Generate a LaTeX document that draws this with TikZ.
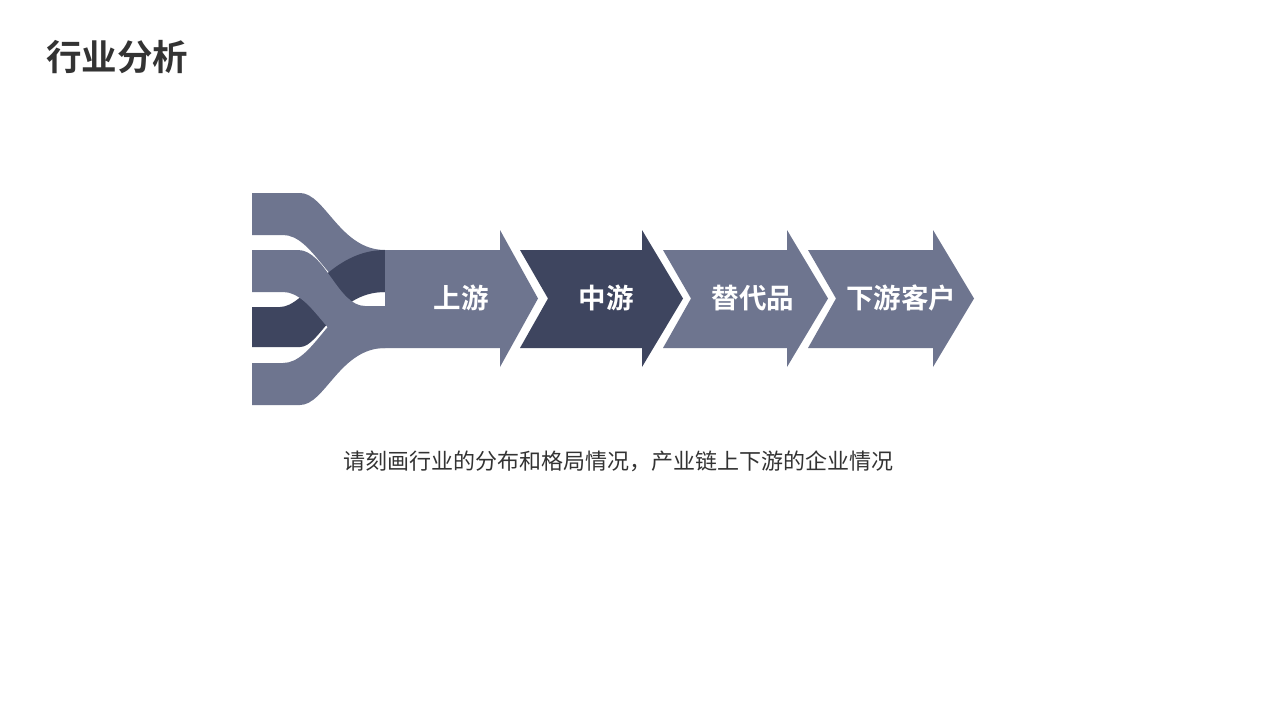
\documentclass[tikz,border=0pt]{standalone}
\usepackage{fontspec}
\newfontfamily\cjk{Noto Sans CJK SC}
\newfontfamily\cjkbold{Noto Sans CJK SC Bold}
\definecolor{lightband}{HTML}{6E758F}
\definecolor{darkband}{HTML}{3E455F}
\definecolor{textgray}{HTML}{333333}
\begin{document}
\begin{tikzpicture}[x=1pt,y=-1pt,
  lightfill/.style={fill=lightband,draw=none},
  darkfill/.style={fill=darkband,draw=none},
  arrowlabel/.style={text=white,font=\cjkbold\fontsize{27.5}{32}\selectfont,inner sep=0pt,anchor=center}]
\useasboundingbox (0,0) rectangle (1280,720);
\fill[white] (0,0) rectangle (1280,720);
% title
\node[anchor=west,text=textgray,font=\cjkbold\fontsize{35.5}{42}\selectfont,inner sep=0pt] (title) at (46,57) {行业分析};
% band 1 (top)
\path[lightfill] (252,193) -- (300,193) .. controls (325,193) and (340,250) .. (385,250)
  -- (385,292) -- (360,292) .. controls (330,292) and (313,235) .. (283,235) -- (252,235) -- cycle;
% band 3 (dark)
\path[darkfill] (252,307) -- (280,307) .. controls (305,307) and (330,250) .. (385,250)
  -- (385,292) .. controls (335,292) and (320,347) .. (300,347) -- (252,347) -- cycle;
% band 2
\path[lightfill] (252,250) -- (298,250) .. controls (325,250) and (338,306) .. (365,306) -- (385,306)
  -- (385,348) -- (360,348) .. controls (330,348) and (313,292) .. (283,292) -- (252,292) -- cycle;
% band 4 (bottom)
\path[lightfill] (252,405) -- (300,405) .. controls (325,405) and (340,348) .. (385,348)
  -- (385,306) -- (360,306) .. controls (330,306) and (313,363) .. (283,363) -- (252,363) -- cycle;
% arrows
\path[lightfill] (385,250) -- (500,250) -- (500,230) -- (538,298.5) -- (500,367) -- (500,348) -- (385,348) -- cycle;
\path[darkfill] (520,250) -- (642,250) -- (642,230) -- (683,298.5) -- (642,367) -- (642,348) -- (520,348) -- (548,298.5) -- cycle;
\path[lightfill] (663,250) -- (787,250) -- (787,230) -- (828,298.5) -- (787,367) -- (787,348) -- (663,348) -- (691,298.5) -- cycle;
\path[lightfill] (808,250) -- (933,250) -- (933,230) -- (974,298.5) -- (933,367) -- (933,348) -- (808,348) -- (836,298.5) -- cycle;
% labels
\node[arrowlabel] (up) at (461,298) {上游};
\node[arrowlabel] (mid) at (606,298) {中游};
\node[arrowlabel] (sub) at (753,298) {替代品};
\node[arrowlabel] (down) at (901,298) {下游客户};
% caption
\node[text=textgray,font=\cjk\fontsize{22}{27}\selectfont,inner sep=0pt] (cap) at (618,461) {请刻画行业的分布和格局情况，产业链上下游的企业情况};
\end{tikzpicture}
\end{document}
